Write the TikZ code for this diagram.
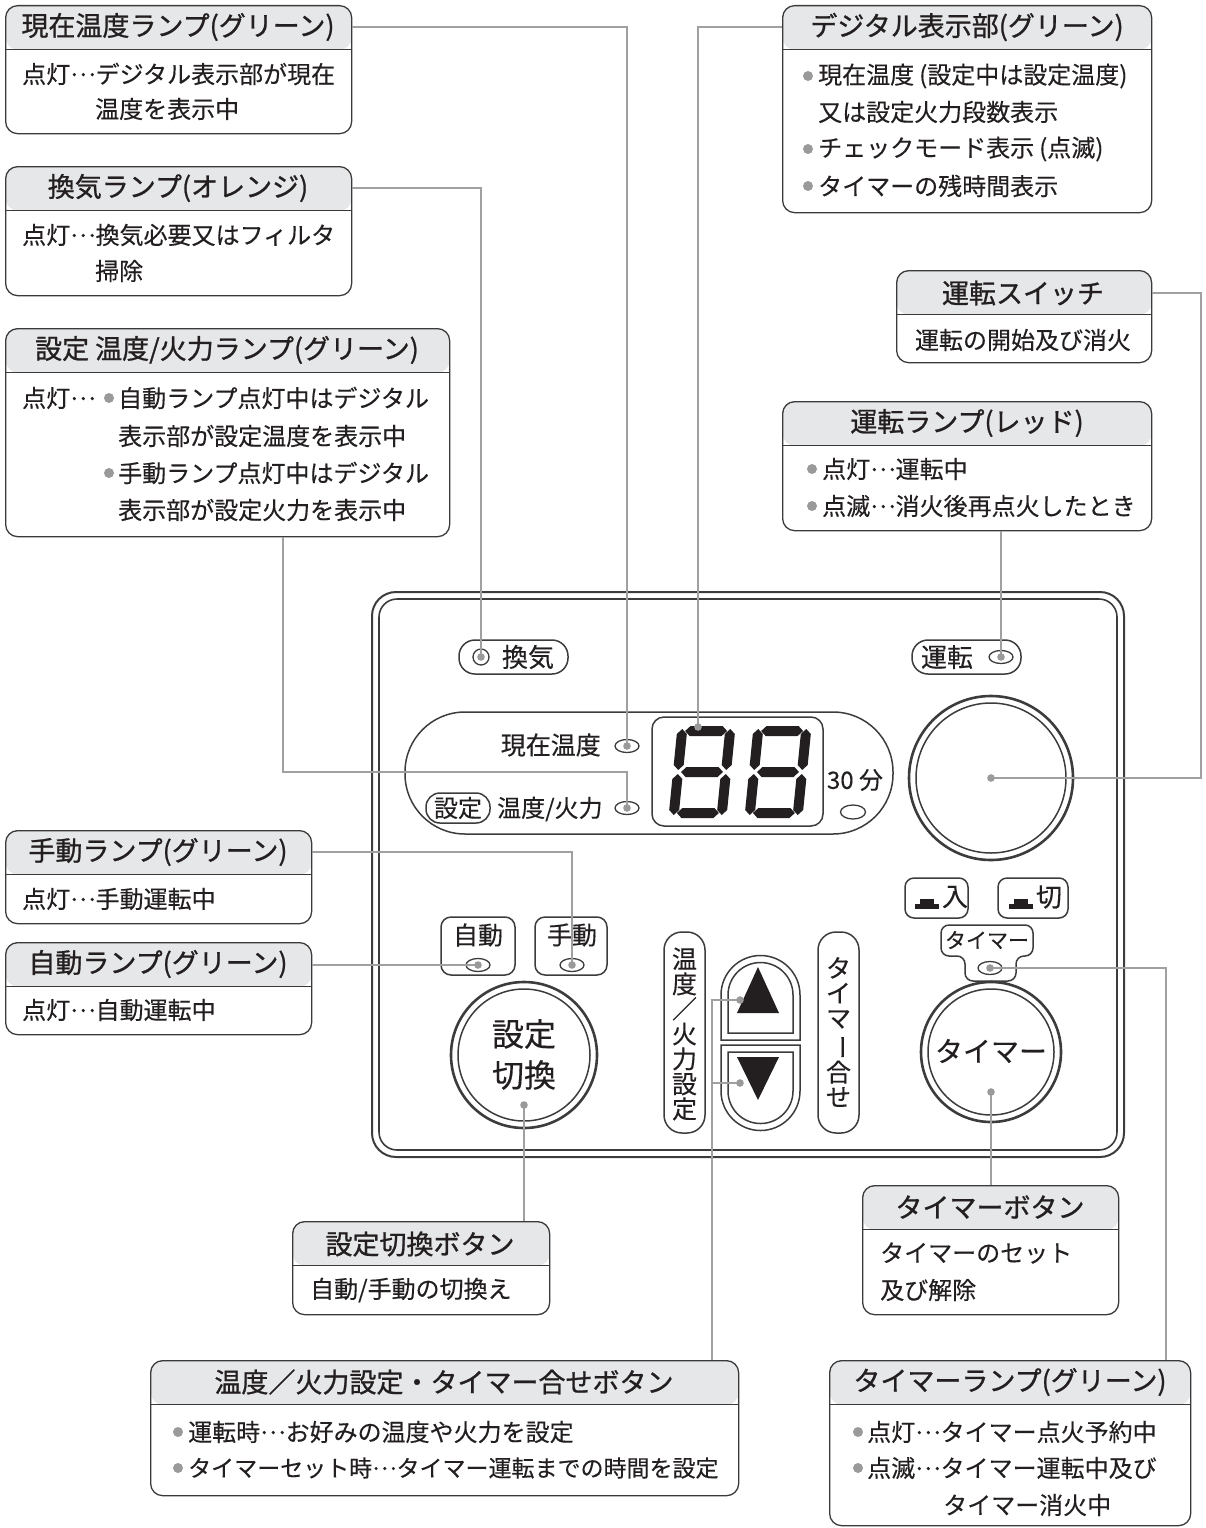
\documentclass[tikz,border=0pt]{standalone}
\usepackage{fontspec}
\setmainfont{Noto Sans CJK JP}[FakeBold=0.3]
\newfontfamily\hdrfont{Noto Sans CJK JP}[FakeBold=0.9]
\usetikzlibrary{shapes.geometric,calc}
\definecolor{ink}{HTML}{231F20}
\definecolor{boxline}{HTML}{3A3A3A}
\definecolor{hdrfill}{HTML}{E6E7E8}
\definecolor{leadc}{HTML}{A0A0A0}
\definecolor{dotc}{HTML}{9A9A9A}
\definecolor{pline}{HTML}{3C3C3C}
\newcommand\fs[1]{\fontsize{#1}{#1}\selectfont}
\newcommand\dd{\raisebox{0.3em}{…}}
\newcommand\callout[5]{%
  \node[cbox, minimum width={(#4)-(#2)}, minimum height={(#5)-(#3)}] (#1) at (#2,#3) {};}
\newcommand\bul[2]{\fill[dotc] (#1,#2) circle (5);}
\newcommand\segH[3]{\fill[ink] (#1,#3) -- ({#1+5},{#3-5}) -- ({#2-5},{#3-5}) -- (#2,#3) -- ({#2-5},{#3+5}) -- ({#1+5},{#3+5}) -- cycle;}
\newcommand\segV[3]{\fill[ink] (#1,#2) -- ({#1+5},{#2+5}) -- ({#1+5},{#3-5}) -- (#1,#3) -- ({#1-5},{#3-5}) -- ({#1-5},{#2+5}) -- cycle;}
\newcommand\digit[2]{%
  \begin{scope}[shift={(#1,#2)}, xslant=0.1]
    \segH{8}{50}{-41}\segH{8}{50}{0}\segH{8}{50}{41}
    \segV{5}{-43}{-2}\segV{53}{-43}{-2}
    \segV{5}{2}{43}\segV{53}{2}{43}
  \end{scope}}
\tikzset{
  cbox/.style={draw=boxline, line width=1.3pt, rounded corners=12pt, inner sep=0pt, anchor=north west,
    path picture={\fill[hdrfill] (path picture bounding box.north west) rectangle ([yshift=-44pt]path picture bounding box.north east);
      \draw[boxline, line width=1.3pt] ([yshift=-44pt]path picture bounding box.north west) -- ([yshift=-44pt]path picture bounding box.north east);}},
  htext/.style={font=\hdrfont\fs{27}, text=ink, inner sep=0pt},
  btext/.style={font=\fs{24}, text=ink, inner sep=0pt, anchor=west},
  ptext/.style={font=\fs{25}, text=ink, inner sep=0pt},
  lead/.style={draw=leadc, line width=1.4pt},
  pl/.style={draw=pline, line width=1.5pt},
  lamp/.style={ellipse, draw=pline, line width=1.3pt, minimum width=24pt, minimum height=13pt, inner sep=0pt},
  ring/.style={circle, draw=pline, line width=2.6pt, inner sep=0pt},
}
\begin{document}
\begin{tikzpicture}[x=1pt,y=-1pt]
\useasboundingbox (0,0) rectangle (1206,1528);

% ---------------- callout boxes ----------------
\callout{b1}{5}{5}{351}{133}
\node[htext] (h1) at (178,27) {現在温度ランプ(グリーン)};
\node[btext] at (22,74) {点灯\dd デジタル表示部が現在};
\node[btext] at (95,109) {温度を表示中};

\callout{b2}{5}{166}{351}{295}
\node[htext] (h2) at (178,188) {換気ランプ(オレンジ)};
\node[btext] at (22,235) {点灯\dd 換気必要又はフィルタ};
\node[btext] at (95,271) {掃除};

\callout{b3}{5}{328}{449}{536}
\node[htext] (h3) at (227,350) {設定 温度/火力ランプ(グリーン)};
\node[btext] at (22,398) {点灯\dd};
\bul{109}{398}\node[btext] at (118,398) {自動ランプ点灯中はデジタル};
\node[btext] at (118,436) {表示部が設定温度を表示中};
\bul{109}{473}\node[btext] at (118,473) {手動ランプ点灯中はデジタル};
\node[btext] at (118,510) {表示部が設定火力を表示中};

\callout{b4}{782}{5}{1151}{212}
\node[htext] (h4) at (967,27) {デジタル表示部(グリーン)};
\bul{808}{76}\node[btext] at (818,76) {現在温度\hspace{5pt}(設定中は設定温度)};
\node[btext] at (818,112) {又は設定火力段数表示};
\bul{808}{149}\node[btext] at (818,149) {チェックモード表示\hspace{5pt}(点滅)};
\bul{808}{186}\node[btext] at (818,186) {タイマーの残時間表示};

\callout{b5}{896}{270}{1151}{362}
\node[htext] (h5) at (1023,293) {運転スイッチ};
\node[btext, anchor=center] at (1023,340) {運転の開始及び消火};

\callout{b6}{782}{401}{1151}{530}
\node[htext] (h6) at (967,423) {運転ランプ(レッド)};
\bul{812}{469}\node[btext] at (822,469) {点灯\dd 運転中};
\bul{812}{506}\node[btext] at (822,506) {点滅\dd 消火後再点火したとき};

\callout{b7}{5}{830}{311}{923}
\node[htext] (h7) at (158,852) {手動ランプ(グリーン)};
\node[btext] at (22,899) {点灯\dd 手動運転中};

\callout{b8}{5}{942}{311}{1034}
\node[htext] (h8) at (158,964) {自動ランプ(グリーン)};
\node[btext] at (22,1010) {点灯\dd 自動運転中};

\callout{b9}{292}{1221}{549}{1314}
\node[htext] (h9) at (420,1244) {設定切換ボタン};
\node[btext] at (310,1290) {自動/手動の切換え};

\callout{b10}{150}{1360}{738}{1495}
\node[htext] (h10) at (444,1382) {温度／火力設定・タイマー合せボタン};
\bul{178}{1432}\node[btext] at (188,1432) {運転時\dd お好みの温度や火力を設定};
\bul{178}{1468}\node[btext, font=\fs{23}] at (188,1468) {タイマーセット時\dd タイマー運転までの時間を設定};

\callout{b11}{862}{1185}{1118}{1314}
\node[htext] (h11) at (990,1207) {タイマーボタン};
\node[btext] at (880,1253) {タイマーのセット};
\node[btext] at (880,1290) {及び解除};

\callout{b12}{829}{1360}{1190}{1525}
\node[htext] (h12) at (1010,1382) {タイマーランプ(グリーン)};
\bul{858}{1432}\node[btext] at (867,1432) {点灯\dd タイマー点火予約中};
\bul{858}{1468}\node[btext] at (867,1468) {点滅\dd タイマー運転中及び};
\node[btext] at (943,1505) {タイマー消火中};

% ---------------- panel ----------------
\draw[pline, line width=2pt, rounded corners=24] (372,592) rectangle (1124,1157);
\draw[pline, line width=1.6pt, rounded corners=18] (379,599) rectangle (1117,1150);

% kanki / unten pills
\draw[pl, rounded corners=16] (459,640) rectangle (568,674);
\node[ptext, font=\fs{26}] at (528,657) {換気};
\node[circle, draw=pline, line width=1.3pt, minimum size=16pt, inner sep=0pt] (lampKanki) at (481,657) {};
\draw[pl, rounded corners=16] (912,640) rectangle (1021,674);
\node[ptext, font=\fs{26}] at (947,657) {運転};
\node[lamp] (lampRun) at (1001,657) {};

% display area
\draw[pl, rounded corners=60] (405,712) rectangle (893,834);
\node[ptext, anchor=east] at (601,745) {現在温度};
\node[lamp] (lampGen) at (627,746) {};
\draw[pl, rounded corners=14] (426,793) rectangle (490,823);
\node[ptext, font=\fs{24}] at (458,808) {設定};
\node[ptext, font=\fs{24}, anchor=west] at (497,809) {温度/火力};
\node[lamp] (lampSet) at (627,808) {};
\draw[pl, rounded corners=12] (652,717) rectangle (823,826);
\digit{673}{772}
\digit{749}{772}
\node[ptext, font=\fs{24}] at (855,780) {30 分};
\node[lamp, minimum width=25pt, minimum height=14pt] (lampMin) at (853,812) {};

% main switch
\node[ring, minimum size=164pt] (sw) at (991,778) {};
\draw[pline, line width=1.5pt] (sw.center) circle (75);

% on/off & timer lamp
\draw[pl, rounded corners=9] (905,878) rectangle (968,918);
\fill[ink] (915,904) rectangle (939,909); \fill[ink] (920,899) rectangle (934,905);
\node[ptext, font=\fs{26}] at (955,897) {入};
\draw[pl, rounded corners=9] (998,878) rectangle (1068,918);
\fill[ink] (1009,904) rectangle (1033,909); \fill[ink] (1014,899) rectangle (1028,905);
\node[ptext, font=\fs{26}] at (1049,897) {切};
\draw[pl, rounded corners=8] (941,925) -- (1033,925) -- (1033,956) -- (1016,956) -- (1016,981) -- (965,981) -- (965,956) -- (941,956) -- cycle;
\node[ptext, font=\fs{21}] at (987,940) {タイマー};
\node[lamp] (lampTimer) at (990,968) {};

% auto / manual
\draw[pl, rounded corners=10] (441,917) rectangle (515,975);
\node[ptext] at (478,935) {自動};
\node[lamp] (lampAuto) at (478,965) {};
\draw[pl, rounded corners=10] (535,917) rectangle (607,975);
\node[ptext] at (572,935) {手動};
\node[lamp] (lampManual) at (572,965) {};

% setting switch button
\node[ring, minimum size=146pt] (setBtn) at (524,1055) {};
\draw[pline, line width=1.5pt] (setBtn.center) circle (66);
\node[ptext, font=\fs{32}] at (524,1034) {設定};
\node[ptext, font=\fs{32}] at (524,1075) {切換};
\coordinate (setDot) at (524,1105);

% timer button
\node[ring, minimum size=140pt] (timerBtn) at (991,1052) {};
\draw[pline, line width=1.5pt] (timerBtn.center) circle (63);
\node[ptext, font=\fs{28}] at (991,1051) {タイマー};
\coordinate (timerDot) at (991,1092);

% vertical labels
\draw[pl, rounded corners=18] (664,932) rectangle (705,1133);
\node[ptext, font=\fs{25}, align=center] at (684.5,1034) {\fontsize{25}{27.8}\selectfont 温\\度\\／\\火\\力\\設\\定};
\draw[pl, rounded corners=18] (818,932) rectangle (859,1133);
\node[ptext, font=\fs{25}, align=center] at (838.5,1032) {\fontsize{25}{30}\selectfont タ\\イ\\マ\\\rotatebox[origin=c]{-90}{ー}\\合\\せ};

% up / down buttons
\draw[pl] (721,1040) -- (721,995) arc[start angle=180, end angle=360, radius=39.5] -- (800,1040) -- cycle;
\draw[pl] (728,1033) -- (728,995) arc[start angle=180, end angle=360, radius=32.5] -- (793,1033) -- cycle;
\draw[pl] (721,1045) -- (721,1091) arc[start angle=180, end angle=0, radius=39.5] -- (800,1045) -- cycle;
\draw[pl] (728,1052) -- (728,1091) arc[start angle=180, end angle=0, radius=32.5] -- (793,1052) -- cycle;
\fill[ink] (758,967) -- (779,1013) -- (737,1013) -- cycle;
\fill[ink] (737,1057) -- (779,1057) -- (758,1100) -- cycle;
\coordinate (upDot) at (740,1000);
\coordinate (downDot) at (740,1083);

% ---------------- connectors ----------------
\coordinate (dispDot) at (698,727);
\coordinate (k3) at (283,772);
\coordinate (k5) at (1201,778);
\coordinate (k10) at (712,1000);
\coordinate (k12) at (1166,968);

\draw[lead] (b1.east |- h1) -| (lampGen.center);
\draw[lead] (b2.east |- h2) -| (lampKanki.center);
\draw[lead] (b3.south -| k3) -- (k3) -| (lampSet.center);
\draw[lead] (b4.west |- h4) -| (dispDot);
\draw[lead] (b5.east |- h5) -| (k5) -- (sw.center);
\draw[lead] (b6.south -| lampRun) -- (lampRun.center);
\draw[lead] (b7.east |- h7) -| (lampManual.center);
\draw[lead] (b8.east |- lampAuto) -- (lampAuto.center);
\draw[lead] (setDot) -- (b9.north -| setDot);
\draw[lead] (b10.north -| k10) -- (k10) -- (upDot);
\draw[lead] (k10 |- downDot) -- (downDot);
\draw[lead] (timerDot) -- (b11.north -| timerDot);
\draw[lead] (lampTimer.center) -- (k12) -- (b12.north -| k12);

\foreach \p in {lampGen,lampKanki,lampSet,lampRun,lampManual,lampAuto,lampTimer}
  \fill[dotc] (\p.center) circle (3.8);
\foreach \p in {dispDot,sw.center,setDot,upDot,downDot,timerDot}
  \fill[dotc] (\p) circle (3.8);
\end{tikzpicture}
\end{document}
